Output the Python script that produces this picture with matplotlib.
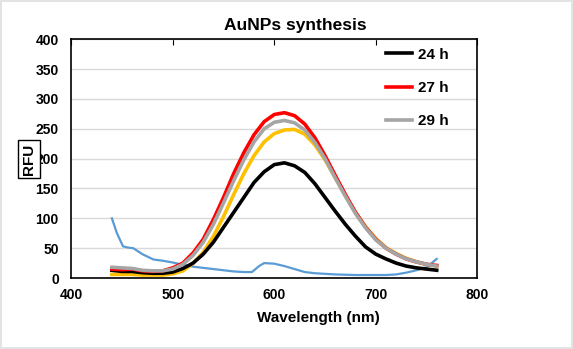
import matplotlib
matplotlib.use("Agg")
import matplotlib.pyplot as plt

plt.rcParams['font.family'] = ['Liberation Sans', 'DejaVu Sans']
plt.rcParams['font.weight'] = 'bold'

wl = [440, 450, 460, 470, 480, 490, 500, 510, 520, 530, 540, 550, 560, 570, 580,
      590, 600, 610, 620, 630, 640, 650, 660, 670, 680, 690, 700, 710, 720, 730,
      740, 750, 760]

rfu_24h = [13, 11, 11, 9, 8, 8, 10, 16, 25, 40, 60, 85, 110, 135, 160,
           178, 190, 193, 188, 177, 158, 135, 112, 90, 70, 52, 40, 32, 25, 20,
           17, 15, 13]
rfu_27h = [15, 14, 15, 12, 11, 12, 17, 25, 42, 65, 98, 135, 175, 210, 240,
           262, 274, 277, 272, 258, 235, 205, 172, 140, 110, 85, 65, 50, 40, 32,
           27, 23, 21]
rfu_29h = [18, 17, 16, 13, 12, 12, 15, 23, 38, 60, 90, 126, 163, 198, 228,
           250, 261, 264, 260, 248, 227, 200, 168, 137, 108, 84, 64, 50, 40, 32,
           27, 23, 20]
rfu_yellow = [6, 6, 6, 5, 5, 5, 7, 12, 25, 43, 70, 103, 140, 175, 205,
              228, 242, 248, 249, 241, 223, 198, 168, 138, 110, 86, 66, 51, 41, 33,
              27, 23, 20]

wl_blue = [440, 445, 451, 456, 461, 470, 481, 490, 500, 510, 520, 530, 540, 550,
           560, 570, 578, 585, 590, 600, 610, 620, 630, 640, 650, 660, 680, 700,
           710, 720, 730, 740, 750, 760]
rfu_blue = [100, 75, 53, 51, 50, 40, 31, 29, 26, 22, 19, 17, 15, 13,
            11, 10, 10, 20, 25, 24, 20, 15, 10, 8, 7, 6, 5, 5,
            5, 6, 9, 13, 18, 32]

fig = plt.figure(figsize=(5.73, 3.49), dpi=100)
fig.patch.set_edgecolor('#E3E3E3')
fig.patch.set_linewidth(1.5)
ax = fig.add_axes([0.1244, 0.2034, 0.7086, 0.684])

ax.plot(wl_blue, rfu_blue, color='#5B9BD5', lw=1.6, zorder=2)
ax.plot(wl, rfu_yellow, color='#FFC000', lw=2.6, zorder=3)
ax.plot(wl, rfu_24h, color='black', lw=2.6, zorder=4, label='24 h')
ax.plot(wl, rfu_27h, color='#FF0000', lw=2.6, zorder=5, label='27 h')
ax.plot(wl, rfu_29h, color='#A5A5A5', lw=2.6, zorder=6, label='29 h')

ax.set_xlim(400, 800)
ax.set_ylim(0, 400)
ax.set_xticks([400, 500, 600, 700, 800])
ax.set_yticks(range(0, 401, 50))
ax.yaxis.grid(True, color='#D9D9D9', lw=1)
ax.set_axisbelow(True)
ax.tick_params(axis='y', length=0, labelsize=10, pad=9)
ax.tick_params(axis='x', bottom=False, top=True, direction='in', length=4,
               labelsize=10, pad=7)
for lab in ax.get_xticklabels() + ax.get_yticklabels():
    lab.set_fontweight('bold')
for sp in ax.spines.values():
    sp.set_linewidth(1.2)

leg = ax.legend(loc='upper right', frameon=False, fontsize=11,
                handlelength=1.65, labelspacing=1.25, handletextpad=0.4,
                bbox_to_anchor=(0.963, 1.022))
for t in leg.get_texts():
    t.set_fontweight('bold')

fig.text(295 / 573, 1 - 25.5 / 349, 'AuNPs synthesis', ha='center', va='center',
         fontsize=12.5, fontweight='bold')
fig.text(318 / 573, 1 - 318 / 349, 'Wavelength (nm)', ha='center', va='center',
         fontsize=11, fontweight='bold')
fig.text(29 / 573, 1 - 159 / 349, 'RFU', ha='center', va='center', rotation=90,
         fontsize=11, fontweight='bold',
         bbox=dict(boxstyle='square,pad=0.25', fc='white', ec='black', lw=1))

fig.savefig('out.png', dpi=100)
